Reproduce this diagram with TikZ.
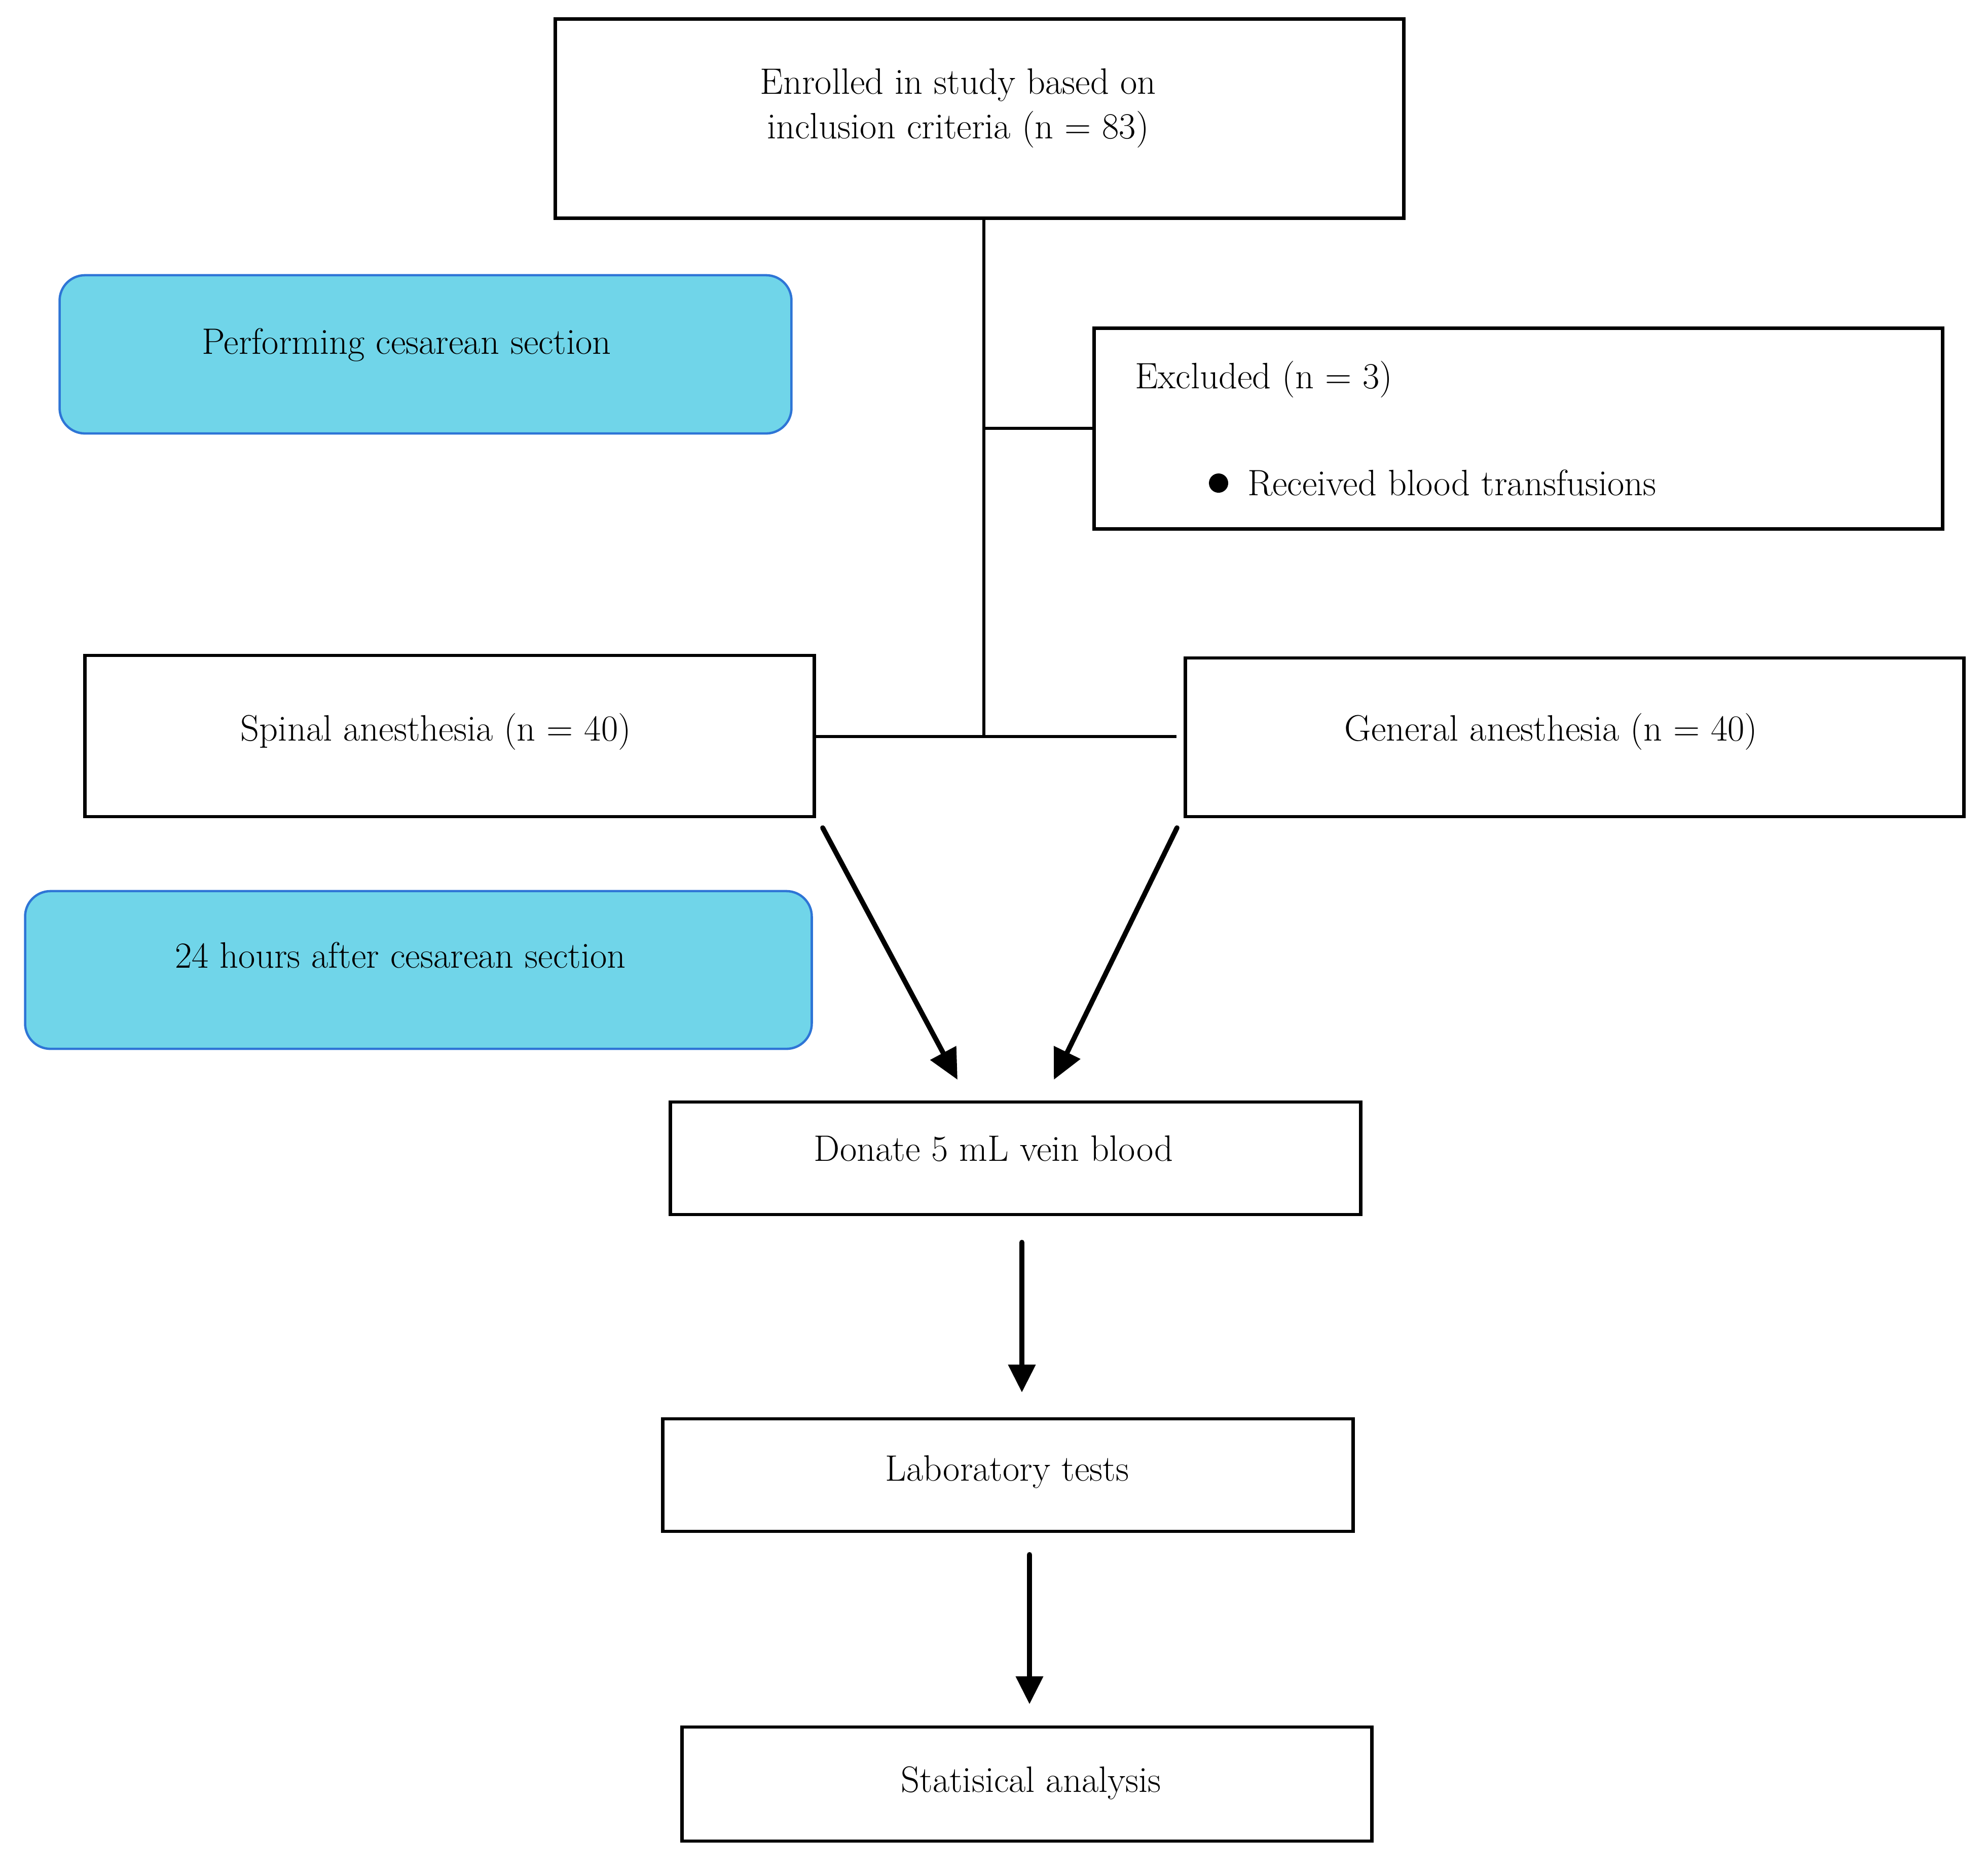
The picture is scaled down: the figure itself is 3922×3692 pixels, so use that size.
\documentclass[tikz,border=0pt]{standalone}
\usepackage{fontspec}
\usetikzlibrary{arrows.meta}
\definecolor{bluefill}{HTML}{70D5E9}
\definecolor{blueedge}{HTML}{2E75D6}
\begin{document}
\begin{tikzpicture}[x=0.01cm,y=-0.01cm,
  every node/.style={inner sep=0pt, outer sep=0pt},
  txt/.style={font={\fontsize{20.6}{25}\selectfont}, align=center},
  whitebox/.style={draw=black, line width=2pt, fill=white, rectangle},
  bluebox/.style={draw=blueedge, line width=1.3pt, fill=bluefill, rectangle, rounded corners=0.5cm},
  conn/.style={draw=black, line width=1.6pt},
  arr/.style={draw=black, line width=3pt, line cap=round, -{Triangle[length=0.55cm, width=0.52cm]}}
]
\useasboundingbox (0,0) rectangle (3922,3692);
\fill[white] (0,0) rectangle (3922,3692);

% boxes
\node[whitebox, minimum width=16.73cm, minimum height=3.92cm] (top) at (1932.5,234) {};
\node[bluebox, minimum width=14.43cm, minimum height=3.12cm] (blueA) at (839.5,699) {};
\node[whitebox, minimum width=16.73cm, minimum height=3.95cm] (excl) at (2995.5,845.5) {};
\node[whitebox, line width=1.8pt, minimum width=14.38cm, minimum height=3.18cm] (spinal) at (887,1452) {};
\node[whitebox, line width=1.8pt, minimum width=15.35cm, minimum height=3.13cm] (general) at (3106.5,1454.5) {};
\node[bluebox, minimum width=15.51cm, minimum height=3.11cm] (blueB) at (825.5,1913.5) {};
\node[whitebox, line width=1.8pt, minimum width=13.61cm, minimum height=2.22cm] (donate) at (2003.5,2285) {};
\node[whitebox, line width=1.8pt, minimum width=13.61cm, minimum height=2.22cm] (lab) at (1988.5,2910) {};
\node[whitebox, line width=1.8pt, minimum width=13.60cm, minimum height=2.25cm] (stat) at (2026,3519.5) {};

% texts
\node[txt] (ttop) at (1890,213) {Enrolled in study based on\\inclusion criteria (n = 83)};
\node[txt] (tblueA) at (802,680) {Performing cesarean section};
\node[txt, anchor=west] (texcl) at (2239,748) {Excluded (n = 3)};
\node[circle, fill=black, minimum size=0.38cm] (bul) at (2404,953) {};
\node[txt, anchor=west] (trec) at (2461,953) {Received blood transfusions};
\node[txt] (tspinal) at (860,1443) {Spinal anesthesia (n = 40)};
\node[txt] (tgeneral) at (3060,1443) {General anesthesia (n = 40)};
\node[txt] (tblueB) at (790,1884) {24 hours after cesarean section};
\node[txt] (tdonate) at (1960,2266) {Donate 5 mL vein blood};
\node[txt] (tlab) at (1987,2904) {Laboratory tests};
\node[txt] (tstat) at (2034,3517) {Statisical analysis};

% connector coordinates
\coordinate (vtop) at (1941,430);
\coordinate (vbranch) at (1941,845);
\coordinate (vbot) at (1941,1453);
\coordinate (hend) at (2321,1453);
\coordinate (a1s) at (1623,1633);
\coordinate (a1e) at (1889,2130);
\coordinate (a2s) at (2322,1633);
\coordinate (a2e) at (2079,2130);
\coordinate (a3s) at (2016,2451);
\coordinate (a3e) at (2016,2747);
\coordinate (a4s) at (2031,3067);
\coordinate (a4e) at (2031,3362);

\draw[conn] (vtop) -- (vbot);
\draw[conn] (vbranch) -- (excl.west |- vbranch);
\draw[conn] (spinal.east |- vbot) -- (hend);

\draw[arr, line width=2.8pt, -{Triangle[length=0.6cm, width=0.56cm]}] (a1s) -- (a1e);
\draw[arr, line width=2.8pt, -{Triangle[length=0.6cm, width=0.56cm]}] (a2s) -- (a2e);
\draw[arr] (a3s) -- (a3e);
\draw[arr] (a4s) -- (a4e);
\end{tikzpicture}
\end{document}
